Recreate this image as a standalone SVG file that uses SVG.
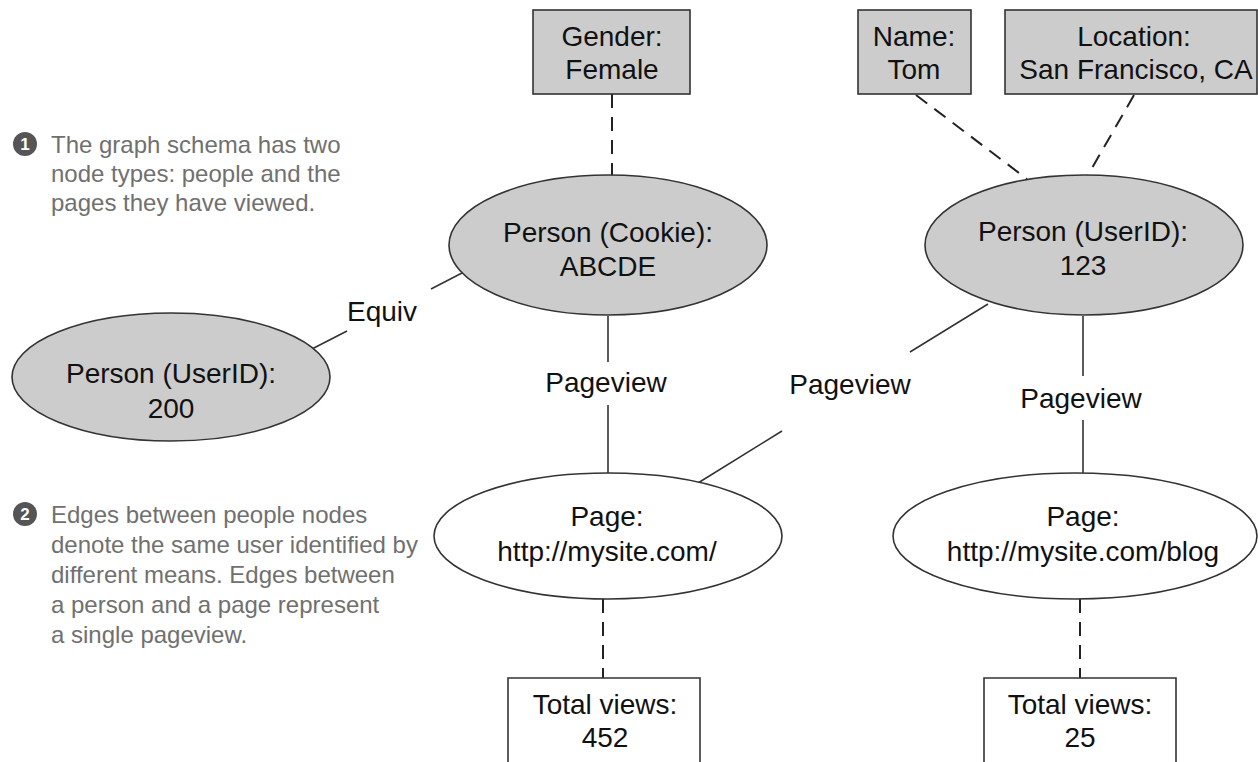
<svg xmlns="http://www.w3.org/2000/svg" width="1258" height="762" viewBox="0 0 1258 762">
<style>
.bg{fill:#ffffff}
.box{fill:#cccccc;stroke:#333333;stroke-width:1.6}
.wbox{fill:#ffffff;stroke:#333333;stroke-width:1.6}
.pell{fill:#cccccc;stroke:#333333;stroke-width:1.6}
.gell{fill:#ffffff;stroke:#333333;stroke-width:1.6}
.t{font-family:"Liberation Sans",Arial,sans-serif;font-size:28px;fill:#111111;text-anchor:middle}
.lbl{font-family:"Liberation Sans",Arial,sans-serif;font-size:28px;fill:#111111;text-anchor:middle}
.note{font-family:"Liberation Sans",Arial,sans-serif;font-size:24px;fill:#707070}
.badge{fill:#555555}
.bn{font-family:"Liberation Sans",Arial,sans-serif;font-size:17px;font-weight:bold;fill:#ffffff;text-anchor:middle}
.solid{stroke:#333333;stroke-width:1.6;fill:none}
.dash{stroke:#222222;stroke-width:2;fill:none;stroke-dasharray:14 9}
</style>
<rect class="bg" x="0" y="0" width="1258" height="762"/>

<g id="connectors">
  <line class="dash" x1="612" y1="94" x2="612" y2="175"/>
  <line class="dash" x1="916" y1="95" x2="1027" y2="179"/>
  <line class="dash" x1="1134" y1="95" x2="1088" y2="175"/>
  <line class="solid" x1="310" y1="350" x2="347" y2="331"/>
  <line class="solid" x1="431" y1="289" x2="462" y2="273"/>
  <line class="solid" x1="608" y1="316" x2="608" y2="362"/>
  <line class="solid" x1="608" y1="405" x2="608" y2="473"/>
  <line class="solid" x1="988" y1="304" x2="910" y2="352"/>
  <line class="solid" x1="782" y1="431" x2="698" y2="483"/>
  <line class="solid" x1="1083" y1="316" x2="1083" y2="376"/>
  <line class="solid" x1="1083" y1="420" x2="1083" y2="473"/>
  <line class="dash" x1="603" y1="599" x2="603" y2="678"/>
  <line class="dash" x1="1080" y1="599" x2="1080" y2="678"/>
  <text class="lbl" x="382" y="321">Equiv</text>
  <text class="lbl" x="606" y="392">Pageview</text>
  <text class="lbl" x="850" y="394">Pageview</text>
  <text class="lbl" x="1081" y="408">Pageview</text>
</g>

<g id="gender">
  <rect class="box" x="533" y="10" width="157" height="84"/>
  <text class="t" x="612" y="46">Gender:</text>
  <text class="t" x="612" y="79">Female</text>
</g>
<g id="name">
  <rect class="box" x="858" y="10" width="113" height="84"/>
  <text class="t" x="914" y="46">Name:</text>
  <text class="t" x="914" y="79">Tom</text>
</g>
<g id="location">
  <rect class="box" x="1005" y="10" width="252" height="84"/>
  <text class="t" x="1134" y="46">Location:</text>
  <text class="t" x="1136" y="79">San Francisco, CA</text>
</g>
<g id="person-cookie">
  <ellipse class="pell" cx="608" cy="245" rx="159" ry="70"/>
  <text class="t" x="608" y="242">Person (Cookie):</text>
  <text class="t" x="608" y="276">ABCDE</text>
</g>
<g id="person-123">
  <ellipse class="pell" cx="1084" cy="245" rx="159" ry="70"/>
  <text class="t" x="1083" y="241">Person (UserID):</text>
  <text class="t" x="1083" y="275">123</text>
</g>
<g id="person-200">
  <ellipse class="pell" cx="171" cy="377" rx="159" ry="64"/>
  <text class="t" x="171" y="383">Person (UserID):</text>
  <text class="t" x="171" y="418">200</text>
</g>
<g id="page-root">
  <ellipse class="gell" cx="608" cy="536" rx="174" ry="63"/>
  <text class="t" x="607" y="526">Page:</text>
  <text class="t" x="607" y="561">http://mysite.com/</text>
</g>
<g id="page-blog">
  <ellipse class="gell" cx="1075" cy="536" rx="182" ry="63"/>
  <text class="t" x="1083" y="526">Page:</text>
  <text class="t" x="1083" y="561">http://mysite.com/blog</text>
</g>
<g id="views-452">
  <path class="wbox" d="M508 770 V678 H700 V770"/>
  <text class="t" x="605" y="714">Total views:</text>
  <text class="t" x="605" y="747">452</text>
</g>
<g id="views-25">
  <path class="wbox" d="M984 770 V678 H1176 V770"/>
  <text class="t" x="1080" y="714">Total views:</text>
  <text class="t" x="1080" y="747">25</text>
</g>

<g id="note1">
  <circle class="badge" cx="25" cy="144" r="12"/>
  <text class="bn" x="25" y="150">1</text>
  <text class="note" x="51" y="153">The graph schema has two</text>
  <text class="note" x="51" y="182">node types: people and the</text>
  <text class="note" x="51" y="211">pages they have viewed.</text>
</g>
<g id="note2">
  <circle class="badge" cx="25" cy="514" r="12"/>
  <text class="bn" x="25" y="520">2</text>
  <text class="note" x="51" y="523">Edges between people nodes</text>
  <text class="note" x="51" y="553">denote the same user identified by</text>
  <text class="note" x="51" y="583">different means. Edges between</text>
  <text class="note" x="51" y="613">a person and a page represent</text>
  <text class="note" x="51" y="643">a single pageview.</text>
</g>
</svg>
